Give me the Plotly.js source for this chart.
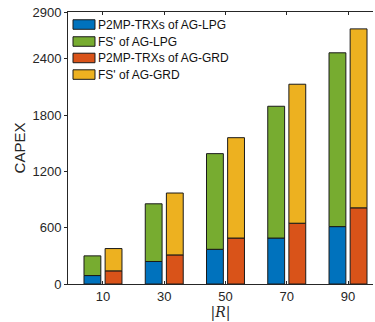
<!DOCTYPE html>
<html>
<head>
<meta charset="utf-8">
<script src="https://cdn.plot.ly/plotly-3.0.1.min.js"></script>
<style>html,body{margin:0;padding:0;background:#fff;}#chart{width:375px;height:322px;}</style>
</head>
<body>
<div id="chart"></div>
<script>
// Data
const categories = ['10', '30', '50', '70', '90'];
const lpgTrx = [90, 240, 370, 490, 612];
const lpgFs  = [210, 615, 1020, 1405, 1853];
const grdTrx = [140, 310, 490, 648, 812];
const grdFs  = [238, 660, 1070, 1482, 1908];
const seriesNames = ['P2MP-TRXs of AG-LPG', "FS' of AG-LPG", 'P2MP-TRXs of AG-GRD', "FS' of AG-GRD"];
const seriesColors = ['#0072BD', '#77AC30', '#D95319', '#EDB120'];
const yTicks = [0, 600, 1200, 1800, 2400, 2900];

const xpos = categories.map((c, i) => i + 1);
const barW = 0.275;
const edge = {color: '#1a1a1a', width: 1};

function bar(i, y, base, offset) {
  return {
    type: 'bar', name: seriesNames[i], x: xpos, y: y, base: base,
    offset: offset, width: barW,
    marker: {color: seriesColors[i], line: edge},
    hoverinfo: 'skip', showlegend: false
  };
}

const traces = [
  bar(0, lpgTrx, 0, -0.31),
  bar(1, lpgFs, lpgTrx, -0.31),
  bar(2, grdTrx, 0, 0.035),
  bar(3, grdFs, grdTrx, 0.035)
];

// Legend (drawn in paper coordinates, top-left inside axes)
const legRowY = [0.954, 0.8915, 0.831, 0.770];
const swH = 0.0175;
const shapes = [];
const annotations = [];
seriesNames.forEach((n, i) => {
  shapes.push({
    type: 'rect', xref: 'paper', yref: 'paper',
    x0: 0.0164, x1: 0.0885, y0: legRowY[i] - swH, y1: legRowY[i] + swH,
    fillcolor: seriesColors[i], line: {color: '#1a1a1a', width: 1}
  });
  annotations.push({
    xref: 'paper', yref: 'paper', x: 0.093, y: legRowY[i],
    xanchor: 'left', yanchor: 'middle', showarrow: false,
    text: n, font: {family: 'Liberation Sans, Arial, sans-serif', size: 12, color: '#111'}
  });
});

const font = 'Liberation Sans, Arial, Helvetica, sans-serif';
const layout = {
  width: 375, height: 322,
  margin: {l: 68, r: 2, t: 12, b: 38},
  barmode: 'overlay',
  paper_bgcolor: '#fff', plot_bgcolor: '#fff',
  font: {family: font, color: '#262626', size: 13},
  showlegend: false,
  shapes: shapes,
  annotations: annotations,
  xaxis: {
    range: [0.429, 5.408],
    tickmode: 'array', tickvals: xpos, ticktext: categories,
    ticks: 'inside', ticklen: 3, tickcolor: '#262626',
    showline: true, linecolor: '#262626', linewidth: 1, mirror: 'ticks',
    showgrid: false, zeroline: false,
    tickfont: {family: font, size: 13, color: '#262626'},
    title: {text: '|<i>R</i>|', font: {family: 'DejaVu Serif, serif', size: 14, color: '#262626'}, standoff: 2}
  },
  yaxis: {
    range: [0, 2900],
    tickmode: 'array', tickvals: yTicks, ticktext: yTicks.map(String),
    ticks: 'outside', ticklen: 3, tickcolor: '#262626',
    showline: true, linecolor: '#262626', linewidth: 1, mirror: false,
    showgrid: false, zeroline: false,
    tickfont: {family: font, size: 13, color: '#262626'},
    title: {text: 'CAPEX', font: {family: font, size: 15, color: '#262626'}, standoff: 3}
  }
};

Plotly.newPlot('chart', traces, layout, {staticPlot: true, displayModeBar: false});
</script>
</body>
</html>
